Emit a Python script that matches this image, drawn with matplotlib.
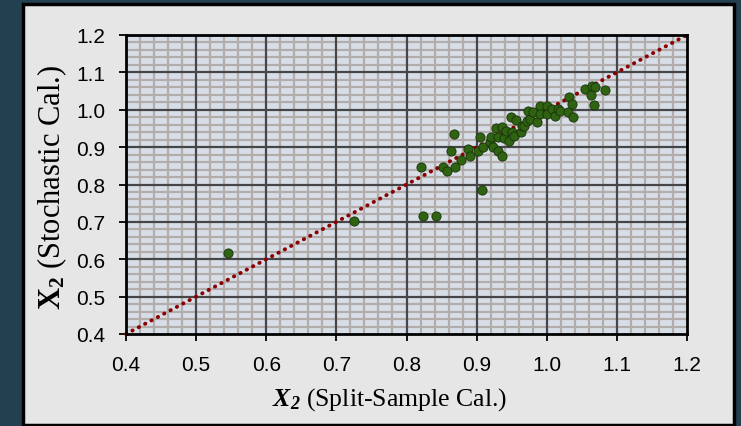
import matplotlib
matplotlib.use("Agg")
import matplotlib.pyplot as plt
from matplotlib.patches import Rectangle
import numpy as np

# values
split_sample = [0.545, 0.725, 0.823, 0.842, 0.908,
                0.821, 0.852, 0.858, 0.869, 0.878, 0.863, 0.868,
                0.888, 0.891, 0.902, 0.905, 0.909, 0.919, 0.920, 0.923,
                0.928, 0.930, 0.930, 0.936, 0.936, 0.939, 0.942, 0.946,
                0.949, 0.950, 0.953, 0.956, 0.963, 0.965, 0.968, 0.972,
                0.973, 0.976, 0.980, 0.986, 0.990, 0.990, 1.000, 1.000,
                1.007, 1.012, 1.016, 1.019, 1.030, 1.032, 1.036, 1.037,
                1.055, 1.065, 1.069, 1.083, 1.063, 1.067]
stochastic = [0.617, 0.702, 0.716, 0.716, 0.786,
              0.848, 0.847, 0.837, 0.847, 0.866, 0.890, 0.936,
              0.895, 0.876, 0.890, 0.927, 0.900, 0.914, 0.927, 0.900,
              0.951, 0.927, 0.890, 0.954, 0.876, 0.924, 0.943, 0.916,
              0.981, 0.940, 0.930, 0.973, 0.941, 0.957, 0.957, 0.970,
              0.997, 0.975, 0.994, 0.967, 1.010, 0.989, 1.010, 0.989,
              1.002, 0.983, 1.002, 0.997, 0.994, 1.034, 1.015, 0.981,
              1.056, 1.063, 1.061, 1.053, 1.040, 1.013]

ticks = [0.4, 0.5, 0.6, 0.7, 0.8, 0.9, 1.0, 1.1, 1.2]
minor_ticks = np.arange(0.42, 1.2, 0.02)
lim = (0.4, 1.2)

plt.rcParams['mathtext.fontset'] = 'custom'
plt.rcParams['mathtext.rm'] = 'Liberation Serif'
plt.rcParams['mathtext.it'] = 'Liberation Serif:italic'
plt.rcParams['mathtext.bf'] = 'Liberation Serif:bold'
plt.rcParams['mathtext.bfit'] = 'Liberation Serif:italic:bold'

fig = plt.figure(figsize=(7.41, 4.27), dpi=100, facecolor='#22404f')

# light panel behind the chart
panel = Rectangle((23 / 741, 1.5 / 427), 711 / 741, 420.5 / 427,
                  transform=fig.transFigure, facecolor='#e6e6e6',
                  edgecolor='black', linewidth=2.5, zorder=-5)
fig.add_artist(panel)

ax = fig.add_axes([126 / 741, 1 - 335 / 427, 561 / 741, 299 / 427])
ax.set_zorder(1)
ax.set_facecolor('#d8dee8')

ax.set_xlim(lim)
ax.set_ylim(lim)
ax.set_xticks(ticks)
ax.set_yticks(ticks)
ax.set_xticklabels([f"{t:.1f}" for t in ticks])
ax.set_yticklabels([f"{t:.1f}" for t in ticks])

# grid drawn by hand so the major lines sit on top of the minor ones
for t in minor_ticks:
    if round(t * 10, 6) % 1 == 0:
        continue
    ax.axvline(t, color='#b2acab', linewidth=1.6, zorder=0.5)
    ax.axhline(t, color='#b2acab', linewidth=1.6, zorder=0.5)
for t in ticks[1:-1]:
    ax.axvline(t, color='#464646', linewidth=1.6, zorder=0.6)
    ax.axhline(t, color='#464646', linewidth=1.6, zorder=0.6)

ax.tick_params(which='major', direction='out', length=5, width=1.3,
               labelsize=15, colors='black', pad=10)
for lab in ax.get_xticklabels() + ax.get_yticklabels():
    lab.set_fontfamily('Liberation Sans')
for s in ax.spines.values():
    s.set_color('black')
    s.set_linewidth(2)
    s.set_zorder(4)

# 1:1 line
ax.plot(lim, lim, color='#8b0000', linewidth=2.8,
        linestyle=(0, (0.1, 1.75)), dash_capstyle='round', zorder=2,
        clip_on=False)

ax.scatter(split_sample, stochastic, s=44, color='#2f6312',
           edgecolors='#16320a', linewidths=0.6, zorder=3)

ax.set_xlabel(r'$\mathbfit{X}_{\mathbfit{2}}$ (Split-Sample Cal.)',
              fontfamily='Liberation Serif', fontsize=18.5, va='center')
ax.set_ylabel(r'$\mathbf{X}_{\mathbf{2}}$ (Stochastic Cal.)',
              fontfamily='Liberation Serif', fontsize=22, va='center')
ax.xaxis.set_label_coords(0.47, -0.217)
ax.yaxis.set_label_coords(-0.132, 0.493)

fig.savefig("out.png", dpi=100, facecolor=fig.get_facecolor())
